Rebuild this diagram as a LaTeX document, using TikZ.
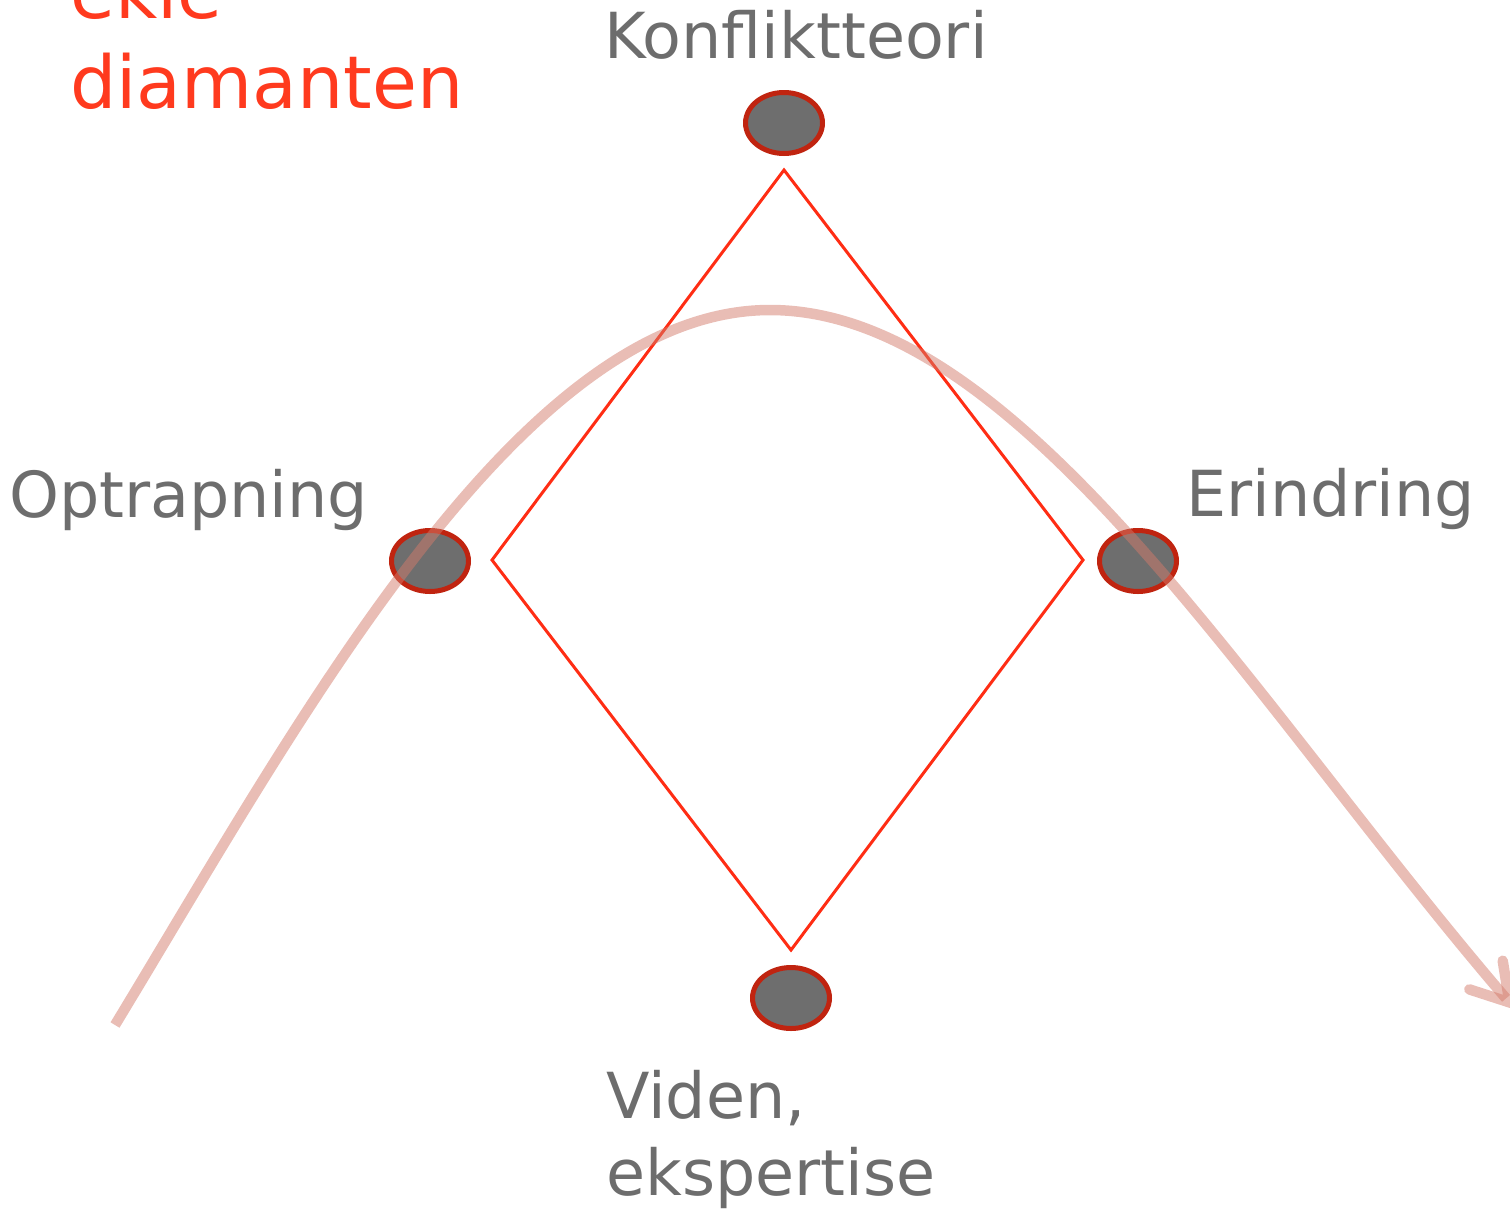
\documentclass[tikz,border=0pt]{standalone}
\usepackage{fontspec}
\setmainfont{DejaVu Sans}
\usetikzlibrary{shapes.geometric,arrows.meta}
\definecolor{txtgray}{RGB}{109,109,109}
\definecolor{dotfill}{RGB}{110,110,110}
\definecolor{dotedge}{RGB}{192,36,16}
\definecolor{diared}{RGB}{255,45,20}
\definecolor{titlered}{RGB}{255,58,30}
\definecolor{curvecol}{RGB}{211,123,107}
\begin{document}
\begin{tikzpicture}[x=1pt,y=-1pt,
  dot/.style={ellipse,draw=dotedge,fill=dotfill,line width=5pt,minimum width=77pt,minimum height=61pt,inner sep=0pt},
  lbl/.style={anchor=base west,inner sep=0pt,text=txtgray,font=\fontsize{63.5}{75}\selectfont},
  ttl/.style={anchor=base west,inner sep=0pt,text=titlered,font=\fontsize{73}{90}\selectfont},
  diaedge/.style={draw=diared,line width=3pt,line join=miter},
  flow/.style={draw=curvecol,draw opacity=0.5,line width=10.5pt,-{Straight Barb[length=36pt,width=44pt,line cap=round]}}]
\useasboundingbox (0,0) rectangle (1510,1208);
\clip (0,0) rectangle (1510,1208);
% title
\node[ttl] (t1) at (70,18) {ekle};
\node[ttl] (t2) at (70,108) {diamanten};
% labels
\node[lbl] (lk) at (604,58) {Konfliktteori};
\node[lbl] (lo) at (9,517) {Optrapning};
\node[lbl] (le) at (1186,516) {Erindring};
\node[lbl] (lv1) at (606,1118) {Viden,};
\node[lbl] (lv2) at (606,1195) {ekspertise};
% diamond
\coordinate (dt) at (784,170);
\coordinate (dr) at (1083,560);
\coordinate (db) at (791,950);
\coordinate (dl) at (492,560);
\draw[diaedge] (dt) -- (dr) -- (db) -- (dl) -- cycle;
% dots
\node[dot] (nk) at (784,123) {};
\node[dot] (no) at (430,561) {};
\node[dot] (ne) at (1138,561) {};
\node[dot] (nv) at (791,998) {};
% flow curve
\coordinate (cs) at (115,1025);
\coordinate (cp) at (770,310);
\coordinate (ce) at (1516,1010);
\draw[flow] (cs) .. controls (300,720) and (520,310) .. (cp)
  .. controls (1020,310) and (1250,700) .. (ce);
\end{tikzpicture}
\end{document}
